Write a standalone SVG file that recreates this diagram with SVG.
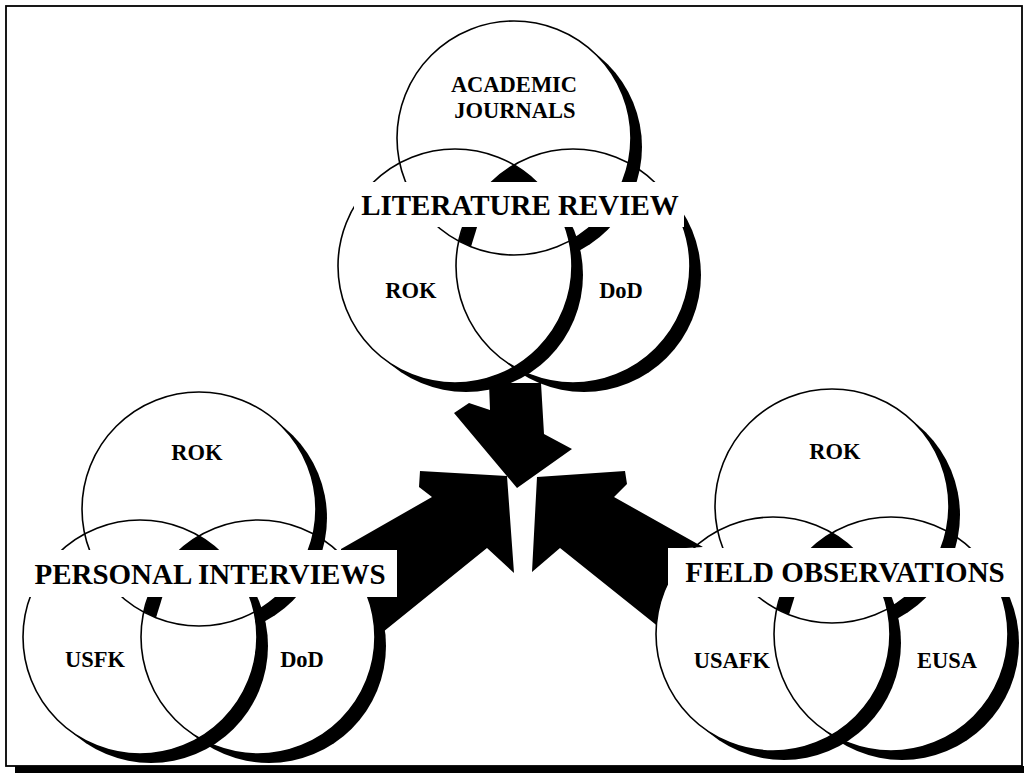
<svg xmlns="http://www.w3.org/2000/svg" width="1024" height="776" viewBox="0 0 1024 776">
<defs>
<style>
.ring{fill:none;stroke:#000;stroke-width:1.6}
.shadow{fill:#000}
.box{fill:#fff}
.arrow{fill:#000}
.big{font-family:"Liberation Serif","Times New Roman",serif;font-weight:bold;font-size:29px;text-anchor:middle;fill:#000}
.small{font-family:"Liberation Serif","Times New Roman",serif;font-weight:bold;font-size:22.5px;text-anchor:middle;fill:#000}
</style>
<mask id="mL" maskUnits="userSpaceOnUse" x="-200" y="-300" width="500" height="500"><rect x="-200" y="-300" width="500" height="500" fill="#fff"/><circle cx="0" cy="0" r="117" fill="#000"/></mask>
<mask id="mR" maskUnits="userSpaceOnUse" x="-200" y="-300" width="500" height="500"><rect x="-200" y="-300" width="500" height="500" fill="#fff"/><circle cx="118" cy="0" r="117" fill="#000"/></mask>
<mask id="mT" maskUnits="userSpaceOnUse" x="-200" y="-300" width="500" height="500"><rect x="-200" y="-300" width="500" height="500" fill="#fff"/><circle cx="59" cy="-128" r="117" fill="#000"/><circle cx="0" cy="0" r="117" fill="#000"/></mask>
<g id="venn">
<circle class="shadow" cx="11" cy="9" r="117" mask="url(#mL)"/>
<circle class="shadow" cx="129" cy="9" r="117" mask="url(#mR)"/>
<circle class="shadow" cx="70" cy="-119" r="117" mask="url(#mT)"/>
<path class="shadow" d="M59,-101 A117,117 0 0 0 32.6,-80 L85.4,-80 A117,117 0 0 0 59,-101 Z"/>
<path class="shadow" d="M8.8,-42 L23,-42 L16,-19.2 L3.7,-25 Z"/>
<circle class="ring" cx="0" cy="0" r="117"/>
<circle class="ring" cx="118" cy="0" r="117"/>
<circle class="ring" cx="59" cy="-128" r="117"/>
</g>
</defs>

<rect x="0" y="0" width="1024" height="776" fill="#fff"/>

<g id="frame">
<rect x="6" y="6" width="1016" height="760" fill="none" stroke="#000" stroke-width="1.8"/>
<rect x="15" y="766" width="1009" height="7" fill="#000"/>
</g>

<g id="connectors">
<polygon class="arrow" points="489,383 490,410 469,403 454,413 517,488 572,449 544,434 541,383"/>
<polygon class="arrow" points="507,476 420,471 419,487 432,497 341,549 341,553 392,553 392,596 372,597 381,630 383,632 487,548 514,573"/>
<path class="arrow" d="M537,477 L625,471 L627,484 L614,497 L703,547 L669,549 L669,581 A117,117 0 0 0 656.3,625 L560,548 L532,572 Z"/>
</g>

<g id="node-literature-review">
<use href="#venn" transform="translate(455,266)"/>
<rect class="box" x="354" y="182" width="330" height="45"/>
<text class="big" x="520" y="215">LITERATURE REVIEW</text>
<text class="small" x="514" y="92">ACADEMIC</text>
<text class="small" x="515" y="118">JOURNALS</text>
<text class="small" x="411" y="298">ROK</text>
<text class="small" x="621" y="298">DoD</text>
</g>

<g id="node-personal-interviews">
<use href="#venn" transform="translate(140,637)"/>
<rect class="box" x="23" y="550" width="374" height="47"/>
<text class="big" x="210" y="584">PERSONAL INTERVIEWS</text>
<text class="small" x="197" y="460">ROK</text>
<text class="small" x="95" y="667">USFK</text>
<text class="small" x="302" y="667">DoD</text>
</g>

<g id="node-field-observations">
<use href="#venn" transform="translate(773,634)"/>
<rect class="box" x="668" y="548" width="347" height="49"/>
<text class="big" x="845" y="582">FIELD OBSERVATIONS</text>
<text class="small" x="835" y="459">ROK</text>
<text class="small" x="732" y="668">USAFK</text>
<text class="small" x="947" y="668">EUSA</text>
</g>
</svg>
